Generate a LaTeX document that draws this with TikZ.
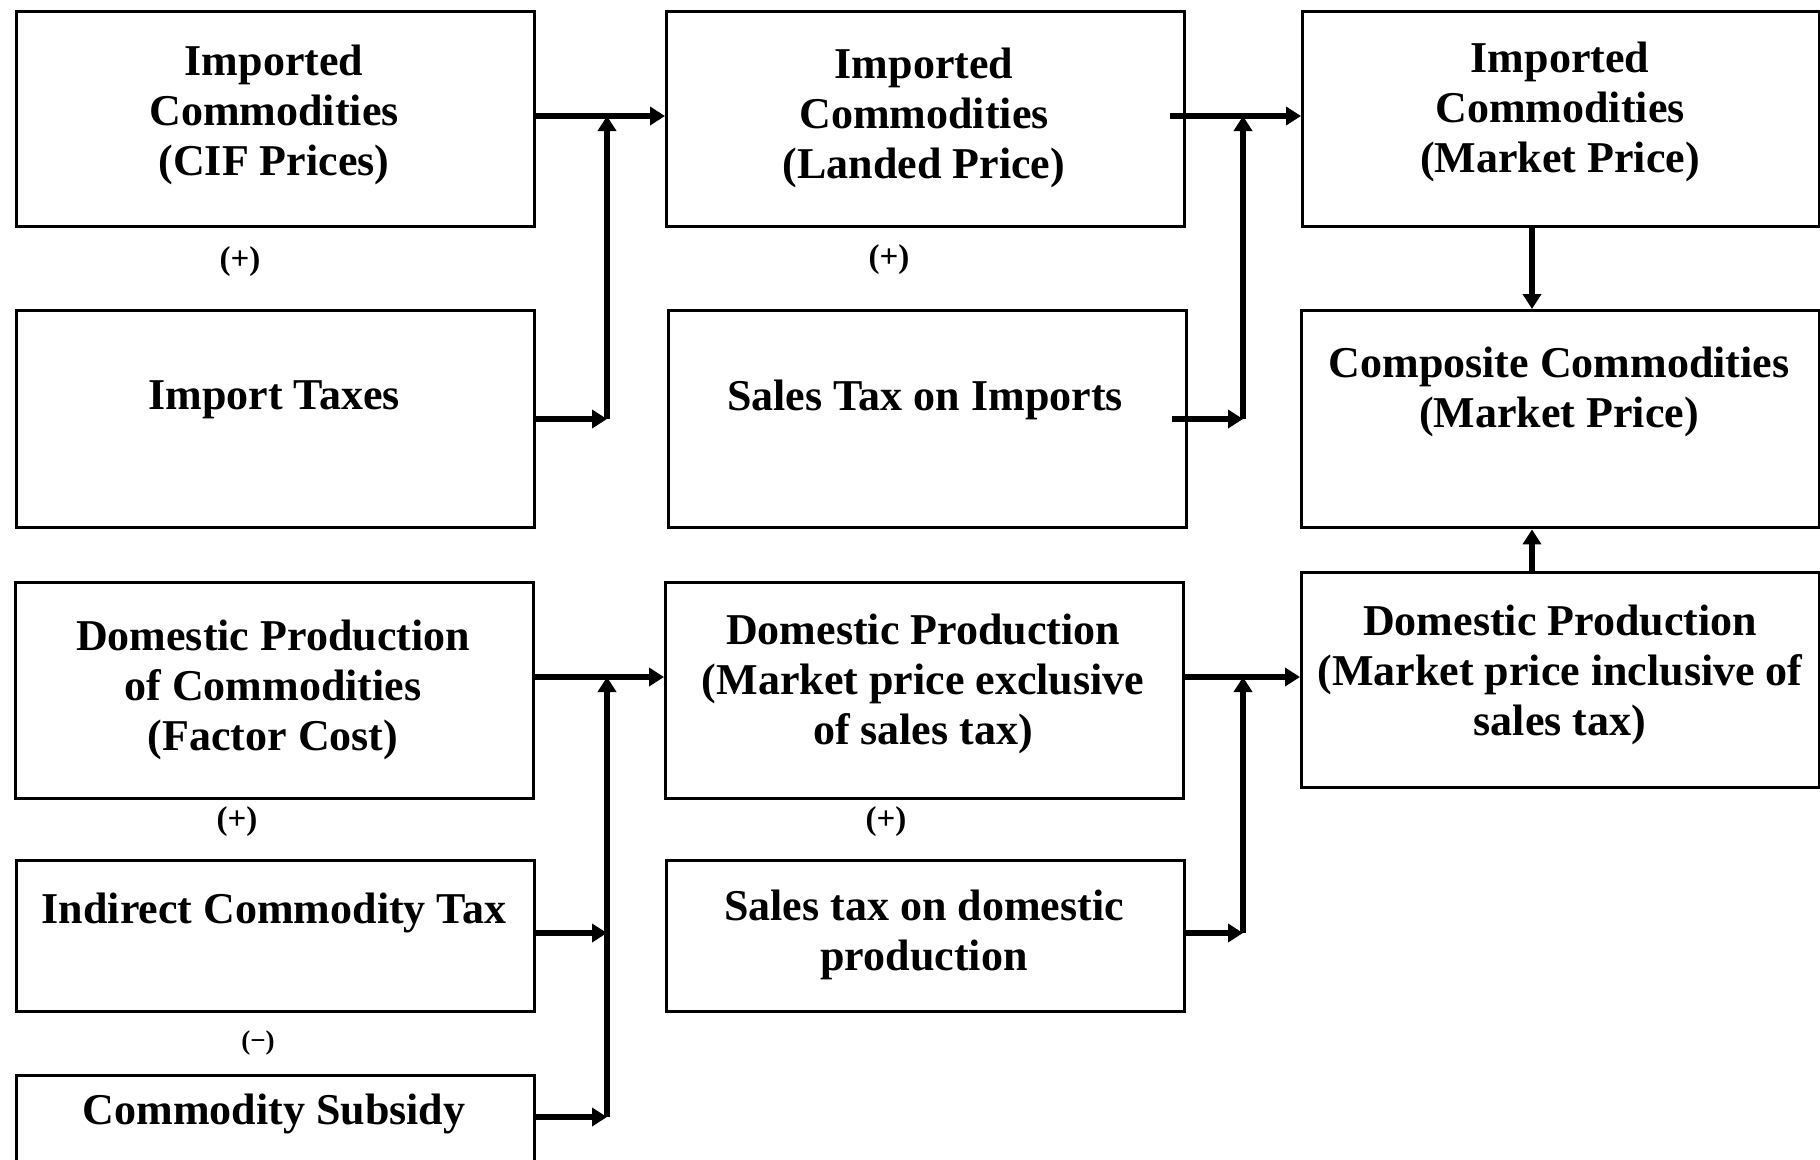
\documentclass[tikz,border=0pt]{standalone}
\usepackage{fontspec}
\setmainfont{Liberation Serif}
\usetikzlibrary{arrows.meta}
\begin{document}
\begin{tikzpicture}[x=1pt,y=-1pt,
  box/.style={draw, line width=3.4pt, anchor=north west, inner sep=0pt},
  txt/.style={align=center, inner sep=0pt, font=\bfseries\fontsize{44}{50}\selectfont},
  sign/.style={inner sep=0pt, font=\bfseries\fontsize{33}{35}\selectfont},
  arr/.style={line width=6.3pt, -{Triangle[length=15pt,width=18pt]}}]
\clip (0,0) rectangle (1820,1159);
\fill[white] (0,0) rectangle (1820,1159);
% boxes
\node[box, minimum width=518pt, minimum height=215pt] (A) at (15,10) {};
\node[box, minimum width=518pt, minimum height=217pt] (B) at (15,309) {};
\node[box, minimum width=518pt, minimum height=215pt] (C) at (665,10) {};
\node[box, minimum width=518pt, minimum height=217pt] (D) at (667,309) {};
\node[box, minimum width=517pt, minimum height=215pt] (E) at (1301,10) {};
\node[box, minimum width=518pt, minimum height=217pt] (F) at (1300,309) {};
\node[box, minimum width=518pt, minimum height=216pt] (G) at (14,581) {};
\node[box, minimum width=518pt, minimum height=151pt] (H) at (15,859) {};
\node[box, minimum width=518pt, minimum height=150pt] (I) at (15,1074) {};
\node[box, minimum width=518pt, minimum height=216pt] (J) at (664,581) {};
\node[box, minimum width=518pt, minimum height=151pt] (K) at (665,859) {};
\node[box, minimum width=518pt, minimum height=215pt] (L) at (1300,571) {};
% texts
\node[txt] (tA) at (274,115) {Imported\\Commodities\\(CIF Prices)};
\node[txt] (tB) at (274,400) {Import Taxes};
\node[txt] (tC) at (924,118) {Imported\\Commodities\\(Landed Price)};
\node[txt] (tD) at (925,400) {Sales Tax on Imports};
\node[txt] (tE) at (1560,112) {Imported\\Commodities\\(Market Price)};
\node[txt] (tF) at (1559,392) {Composite Commodities\\(Market Price)};
\node[txt] (tG) at (273,690) {Domestic Production\\of Commodities\\(Factor Cost)};
\node[txt] (tH) at (274,913) {Indirect Commodity Tax};
\node[txt] (tI) at (274,1114) {Commodity Subsidy};
\node[txt] (tJ) at (923,684) {Domestic Production\\(Market price exclusive\\of sales tax)};
\node[txt] (tK) at (924,935) {Sales tax on domestic\\production};
\node[txt] (tL) at (1560,675) {Domestic Production\\(Market price inclusive of\\sales tax)};
% signs
\node[sign] (s1) at (240,262) {(+)};
\node[sign] (s2) at (889,260) {(+)};
\node[sign] (s3) at (237,822) {(+)};
\node[sign] (s4) at (886,822) {(+)};
\node[sign, font=\bfseries\fontsize{27}{29}\selectfont] (s5) at (258,1043) {(−)};
% helper coordinates
\coordinate (c1) at (607,0);
\coordinate (c2) at (1243,0);
\coordinate (c3) at (1532,0);
\coordinate (r1) at (0,116);
\coordinate (r2) at (0,419);
\coordinate (r3) at (0,677);
\coordinate (r4) at (0,933);
\coordinate (r5) at (0,1117);
% connectors
\draw[arr] (A.east |- r1) -- (C.west |- r1);
\draw[arr] (B.east |- r2) -- (c1 |- r2);
\draw[arr] (c1 |- r2) -- (c1 |- r1);
\draw[arr] ([xshift=-16pt]C.east |- r1) -- (E.west |- r1);
\draw[arr] ([xshift=-16pt]D.east |- r2) -- (c2 |- r2);
\draw[arr] (c2 |- r2) -- (c2 |- r1);
\draw[arr] (E.south -| c3) -- (F.north -| c3);
\draw[arr] (L.north -| c3) -- (F.south -| c3);
\draw[arr] (G.east |- r3) -- (J.west |- r3);
\draw[arr] (H.east |- r4) -- (c1 |- r4);
\draw[arr] (I.east |- r5) -- (c1 |- r5);
\draw[arr] (c1 |- r5) -- (c1 |- r3);
\draw[arr] (J.east |- r3) -- (L.west |- r3);
\draw[arr] (K.east |- r4) -- (c2 |- r4);
\draw[arr] (c2 |- r4) -- (c2 |- r3);
\end{tikzpicture}
\end{document}
